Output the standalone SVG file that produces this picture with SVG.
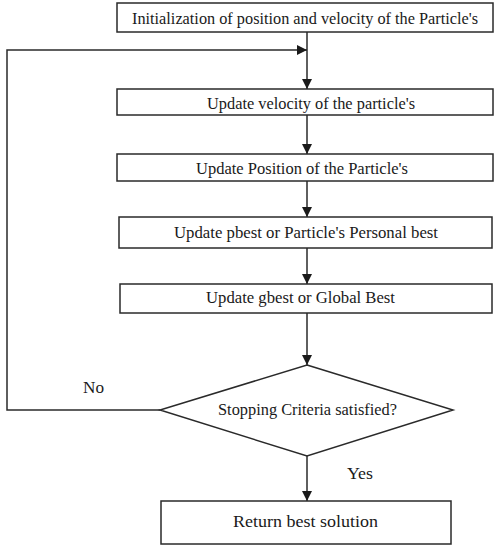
<svg xmlns="http://www.w3.org/2000/svg" width="498" height="550" viewBox="0 0 498 550">
<defs>
<style>
.box{fill:#fff;stroke:#2a2a2a;stroke-width:1.5}
.t{font-family:"Liberation Serif","Times New Roman",serif;font-size:17px;fill:#1a1a1a;text-anchor:middle}
.l{font-family:"Liberation Serif","Times New Roman",serif;font-size:17px;fill:#1a1a1a}
.c{fill:none;stroke:#2a2a2a;stroke-width:1.5}
</style>
<marker id="ah" viewBox="0 0 10 10" refX="10" refY="5" markerWidth="10" markerHeight="10" markerUnits="userSpaceOnUse" orient="auto">
<path d="M0,0 L10,5 L0,10 z" fill="#1a1a1a"/>
</marker>
</defs>
<rect width="498" height="550" fill="#fff"/>
<g id="connectors">
<line class="c" x1="307" y1="32" x2="307" y2="89" marker-end="url(#ah)"/>
<line class="c" x1="307" y1="115" x2="307" y2="154" marker-end="url(#ah)"/>
<line class="c" x1="307" y1="181" x2="307" y2="217" marker-end="url(#ah)"/>
<line class="c" x1="307" y1="248" x2="307" y2="284" marker-end="url(#ah)"/>
<line class="c" x1="307" y1="313" x2="307" y2="365" marker-end="url(#ah)"/>
<line class="c" x1="307" y1="456" x2="307" y2="501" marker-end="url(#ah)"/>
<polyline class="c" points="160,410 7,410 7,50 307,50" marker-end="url(#ah)"/>
<text class="l" x="83" y="393" textLength="21" lengthAdjust="spacingAndGlyphs">No</text>
<text class="l" x="347" y="479" textLength="26" lengthAdjust="spacingAndGlyphs">Yes</text>
</g>
<g id="init">
<rect class="box" x="117" y="3" width="376" height="29"/>
<text class="t" x="305" y="24" textLength="346" lengthAdjust="spacingAndGlyphs">Initialization of position and velocity of the Particle's</text>
</g>
<g id="velocity">
<rect class="box" x="117" y="89" width="376" height="26"/>
<text class="t" x="311" y="109" textLength="208" lengthAdjust="spacingAndGlyphs">Update velocity of the particle's</text>
</g>
<g id="position">
<rect class="box" x="117" y="154" width="376" height="27"/>
<text class="t" x="302" y="174" textLength="212" lengthAdjust="spacingAndGlyphs">Update Position of the Particle's</text>
</g>
<g id="pbest">
<rect class="box" x="119" y="217" width="373" height="31"/>
<text class="t" x="306" y="238" textLength="264" lengthAdjust="spacingAndGlyphs">Update pbest or Particle's Personal best</text>
</g>
<g id="gbest">
<rect class="box" x="120" y="284" width="372" height="29"/>
<text class="t" x="300.500" y="303" textLength="189" lengthAdjust="spacingAndGlyphs">Update gbest or Global Best</text>
</g>
<g id="decision">
<polygon class="box" points="307,365 453,410 307,456 160,410"/>
<text class="t" x="307.500" y="415" textLength="179" lengthAdjust="spacingAndGlyphs">Stopping Criteria satisfied?</text>
</g>
<g id="result">
<rect class="box" x="161" y="501" width="290" height="43"/>
<text class="t" x="305.500" y="527" textLength="145" lengthAdjust="spacingAndGlyphs">Return best solution</text>
</g>
</svg>
